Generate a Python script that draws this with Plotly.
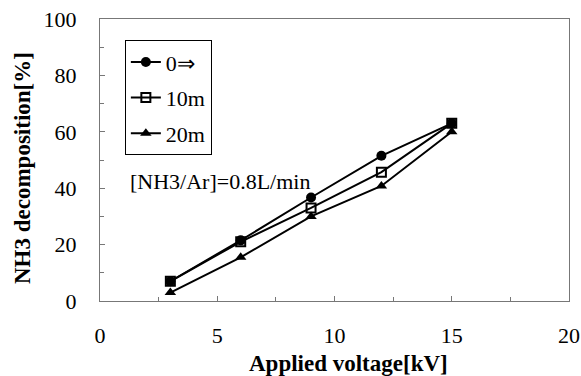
import plotly.graph_objects as go

voltage = [3, 6, 9, 12, 15]
s0 = [7, 21.5, 36.7, 51.5, 63]
s10 = [7, 21, 33, 45.7, 63]
s20 = [3, 15.5, 30, 40.8, 60]
names = ["0⇒", "10m", "20m"]
x_title = "<b>Applied voltage[kV]</b>"
y_title = "<b>NH3 decomposition[%]</b>"

FAM = "Liberation Serif"

fig = go.Figure()
fig.add_trace(go.Scatter(x=voltage, y=s0, name=names[0], mode="lines+markers", legendgroup="a",
                         line=dict(color="black", width=2),
                         marker=dict(symbol="circle", size=10, color="black")))
fig.add_trace(go.Scatter(x=voltage, y=s10, name=names[1], mode="lines+markers", legendgroup="b",
                         line=dict(color="black", width=2),
                         marker=dict(symbol="square-open", size=9, color="black", line=dict(width=2))))
fig.add_trace(go.Scatter(x=voltage, y=s20, name=names[2], mode="lines+markers", legendgroup="c",
                         line=dict(color="black", width=2),
                         marker=dict(symbol="triangle-up", size=10, color="black")))

fig.update_layout(
    width=581, height=376,
    margin=dict(l=100, r=12, t=19, b=75, autoexpand=False),
    paper_bgcolor="white", plot_bgcolor="white",
    font=dict(family=FAM, size=22, color="black"),
    showlegend=True,
    legend=dict(x=0.053, y=0.925, xanchor="left", yanchor="top",
                bordercolor="black", borderwidth=1, bgcolor="white",
                font=dict(family=FAM, size=22),
                itemwidth=30, tracegroupgap=4),
    xaxis=dict(range=[0, 20], tickvals=[0, 5, 10, 15, 20], ticks="inside", ticklen=5,
               tickcolor="#777", showline=True, linecolor="#777", mirror=True,
               showgrid=False, zeroline=False, automargin=False,
               minor=dict(tickvals=[2.5, 7.5, 12.5, 17.5], ticks="inside", ticklen=4, tickcolor="#777"),
               ticklabelstandoff=15),
    yaxis=dict(range=[0, 100], tickvals=[0, 20, 40, 60, 80, 100], ticks="inside", ticklen=5,
               tickcolor="#777", showline=True, linecolor="#777", mirror=True,
               showgrid=False, zeroline=False, automargin=False,
               minor=dict(tickvals=[10, 30, 50, 70, 90], ticks="inside", ticklen=4, tickcolor="#777"),
               ticklabelstandoff=18),
)
fig.add_annotation(text="[NH3/Ar]=0.8L/min", x=0.06, y=0.422, xref="paper", yref="paper",
                   xanchor="left", yanchor="middle", showarrow=False,
                   font=dict(family=FAM, size=22))
# axis titles placed as in the reference (slightly off-centre)
fig.add_annotation(text=x_title, x=(348 - 100) / 469, y=-(363 - 301) / 282,
                   xref="paper", yref="paper", xanchor="center", yanchor="middle",
                   showarrow=False, font=dict(family=FAM, size=23))
fig.add_annotation(text=y_title, x=-(100 - 22) / 469, y=(301 - 168) / 282,
                   xref="paper", yref="paper", xanchor="center", yanchor="middle",
                   textangle=-90, showarrow=False, font=dict(family=FAM, size=23))
fig.write_html("out.html", post_script="document.body.style.margin='0px';",
               config={"displayModeBar": False})
